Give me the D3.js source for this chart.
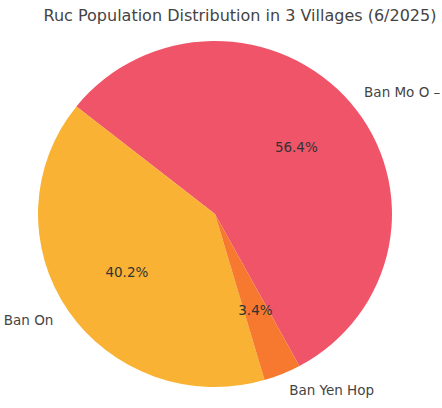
<!DOCTYPE html>
<html><head><meta charset="utf-8">
<script src="https://cdn.jsdelivr.net/npm/d3@7"></script>
<style>body{margin:0;background:#fff;} svg{display:block;} text{font-family:"DejaVu Sans",sans-serif;}</style>
</head><body>
<script>
const title = "Ruc Population Distribution in 3 Villages (6/2025)";
const villages = ["Ban Mo O –", "Ban On", "Ban Yen Hop"];
const shares = [56.4, 40.2, 3.4];
const colors = ["#ef5469", "#f9b234", "#f7792f"];

const W = 442, H = 408;
const cx = 215, cy = 214, rx = 177, ry = 173;
const deg = Math.PI / 180;
const startMath = -61.5; // matplotlib-style start angle (counterclockwise)

const svg = d3.select("body").append("svg").attr("width", W).attr("height", H);
svg.append("text").attr("x", 240).attr("y", 21).attr("text-anchor", "middle")
  .attr("font-size", 16).attr("fill", "#444").text(title);

const a0 = (90 - startMath) * deg;
const pie = d3.pie().sort(null).value(d => d).startAngle(a0).endAngle(a0 - 2 * Math.PI);
const arcs = pie(shares);
const arc = d3.arc().innerRadius(0).outerRadius(1);

const g = svg.append("g").attr("transform", `translate(${cx},${cy})`);
g.append("g").attr("transform", `scale(${rx},${ry})`)
  .selectAll("path").data(arcs).join("path")
  .attr("d", arc).attr("fill", (d, i) => colors[i]);

function pos(d, f) {
  const m = (d.startAngle + d.endAngle) / 2;
  return [Math.sin(m) * rx * f, -Math.cos(m) * ry * f];
}
g.selectAll("text.pct").data(arcs).join("text").attr("class", "pct")
  .attr("x", d => pos(d, 0.6)[0]).attr("y", d => pos(d, 0.6)[1])
  .attr("text-anchor", "middle").attr("dominant-baseline", "central")
  .attr("font-size", 13.5).attr("fill", "#333")
  .text((d, i) => shares[i].toFixed(1) + "%");
g.selectAll("text.lab").data(arcs).join("text").attr("class", "lab")
  .attr("x", d => pos(d, 1.1)[0]).attr("y", d => pos(d, 1.1)[1])
  .attr("text-anchor", d => pos(d, 1.1)[0] < 0 ? "end" : "start")
  .attr("dominant-baseline", "central")
  .attr("font-size", 13.5).attr("fill", "#444")
  .text((d, i) => villages[i]);
</script>
</body></html>
